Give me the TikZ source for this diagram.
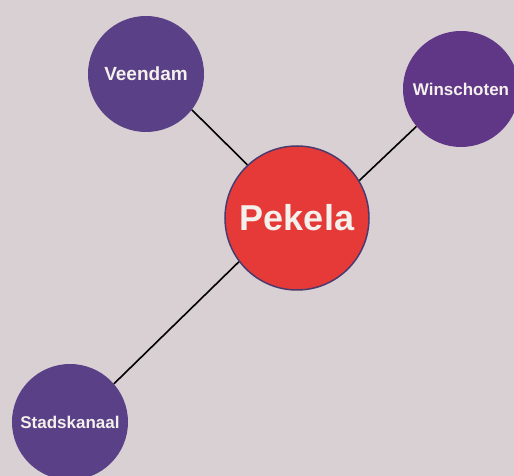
\documentclass[tikz,border=0pt]{standalone}
\usepackage{fontspec}
\setsansfont{Liberation Sans}
\usetikzlibrary{positioning}
\definecolor{paper}{HTML}{D9D0D3}
\definecolor{townpurple}{HTML}{5A4087}
\definecolor{hubred}{HTML}{E63A38}
\definecolor{hubrim}{HTML}{4A3A6E}
\definecolor{townwhite}{HTML}{F4F0EC}
\begin{document}
\begin{tikzpicture}[on grid,
    town/.style={circle,fill=townpurple,minimum size=116pt,inner sep=0pt,text=townwhite,font=\sffamily\bfseries\fontsize{17}{20}\selectfont},
    hub/.style={circle,draw=hubrim,line width=1.5pt,fill=hubred,minimum size=144pt,inner sep=0pt,text=townwhite,font=\sffamily\bfseries\fontsize{36}{40}\selectfont}]
                \clip (-297pt,218pt) rectangle (217pt,-258pt);
                \fill[paper] (-297pt,218pt) rectangle (217pt,-258pt);
                \node[hub] (pekela) {Pekela};
                \node[town] [above left=144pt and 151pt of pekela] (veendam) {\fontsize{19}{22}\selectfont Veendam};
                \node[town,fill=townpurple!85!violet] [above right=129pt and 164pt of pekela] (winschoten) {Winschoten};
                \node[town] [below left=204pt and 227pt of pekela] (stadskanaal) {Stadskanaal};
                \path[line width=1.6pt]
                (pekela.133) edge (veendam.322)
                (pekela.31) edge (winschoten.220)
                (pekela.217) edge (stadskanaal.41);
            \end{tikzpicture}
\end{document}
